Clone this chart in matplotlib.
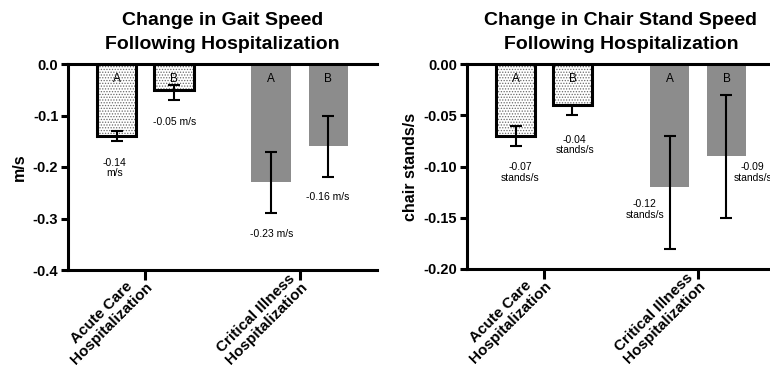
import numpy as np
import matplotlib
matplotlib.use("Agg")
import matplotlib.pyplot as plt
from matplotlib.transforms import blended_transform_factory

plt.rcParams['font.family'] = ['Liberation Sans', 'DejaVu Sans']
plt.rcParams['hatch.linewidth'] = 0.6

groups = ["Acute Care\nHospitalization", "Critical Illness\nHospitalization"]
sub = ["A", "B"]

# gait speed (m/s): acute A, acute B, critical A, critical B
gait = [-0.14, -0.05, -0.23, -0.16]
gait_hi = [-0.13, -0.04, -0.17, -0.10]
gait_lo = [-0.15, -0.07, -0.29, -0.22]
gait_txt = ["-0.14\nm/s", "-0.05 m/s", "-0.23 m/s", "-0.16 m/s"]

# chair stand speed (stands/s)
chair = [-0.07, -0.04, -0.12, -0.09]
chair_hi = [-0.06, -0.04, -0.07, -0.03]
chair_lo = [-0.08, -0.05, -0.18, -0.15]
chair_txt = ["-0.07\nstands/s", "-0.04\nstands/s", "-0.12\nstands/s", "-0.09\nstands/s"]

# where the value labels sit (x offset from bar centre, y in data units)
gait_pos = [(-0.015, -0.202), (0.005, -0.113), (0.005, -0.33), (-0.005, -0.258)]
chair_pos = [(0.03, -0.106), (0.015, -0.079), (-0.16, -0.142), (0.17, -0.106)]

offset = 0.185
width = 0.255
gray = "#8c8c8c"


def panel(ax, vals, hi, lo, txt, pos, ylim, yticks, yfmt, ylabel, title):
    xs = [1 - offset, 1 + offset, 2 - offset, 2 + offset]
    for i, (x, v) in enumerate(zip(xs, vals)):
        if i < 2:
            ax.bar(x, v, width, color="white", edgecolor="#6a6a6a", hatch="......", lw=0, zorder=1)
            ax.bar(x, v, width, fill=False, edgecolor="black", lw=2.2, zorder=2)
        else:
            ax.bar(x, v, width, color=gray, lw=0, zorder=1)
        ax.errorbar(x, v, yerr=[[v - lo[i]], [hi[i] - v]], fmt="none", ecolor="black",
                    elinewidth=1.5, capsize=4.5, capthick=1.5, zorder=3)
        ax.text(x + pos[i][0], pos[i][1], txt[i], ha="center", va="center",
                fontsize=7.5, linespacing=1.1, zorder=4)
    tr = blended_transform_factory(ax.transData, ax.transAxes)
    for j, x in enumerate(xs):
        ax.text(x, 0.925, sub[j % 2], transform=tr, ha="center", va="center", fontsize=8.5, zorder=4)
    ax.set_xlim(0.5, 2.5)
    ax.set_ylim(*ylim)
    ax.set_yticks(yticks)
    ax.set_yticklabels([yfmt.format(t) for t in yticks], fontsize=10.5, fontweight="bold")
    ax.set_xticks([1, 2])
    ax.set_xticklabels(groups, rotation=45, ha="right", va="center", rotation_mode="anchor",
                       fontsize=11, fontweight="bold", linespacing=1.05,
                       multialignment="center")
    ax.set_ylabel(ylabel, fontsize=11.5, fontweight="bold", labelpad=4)
    ax.set_title(title, fontsize=14, fontweight="bold", linespacing=1.5, pad=11)
    for s in ["left", "bottom", "top"]:
        ax.spines[s].set_linewidth(2.2)
    ax.spines["right"].set_visible(False)
    ax.tick_params(axis="both", width=2.2, length=5, pad=2)
    ax.tick_params(axis="x", length=7, pad=0)


fig = plt.figure(figsize=(7.7, 3.8), dpi=100)
ax1 = fig.add_axes([68 / 770, 110 / 380, 309 / 770, 206 / 380])
ax2 = fig.add_axes([467 / 770, 111 / 380, 308 / 770, 205 / 380])

panel(ax1, gait, gait_hi, gait_lo, gait_txt, gait_pos, (-0.4, 0.0),
      [0.0, -0.1, -0.2, -0.3, -0.4], "{:.1f}", "m/s",
      "Change in Gait Speed\nFollowing Hospitalization")
panel(ax2, chair, chair_hi, chair_lo, chair_txt, chair_pos, (-0.2, 0.0),
      [0.0, -0.05, -0.10, -0.15, -0.20], "{:.2f}", "chair stands/s",
      "Change in Chair Stand Speed\nFollowing Hospitalization")

fig.savefig("out.png", dpi=100)
